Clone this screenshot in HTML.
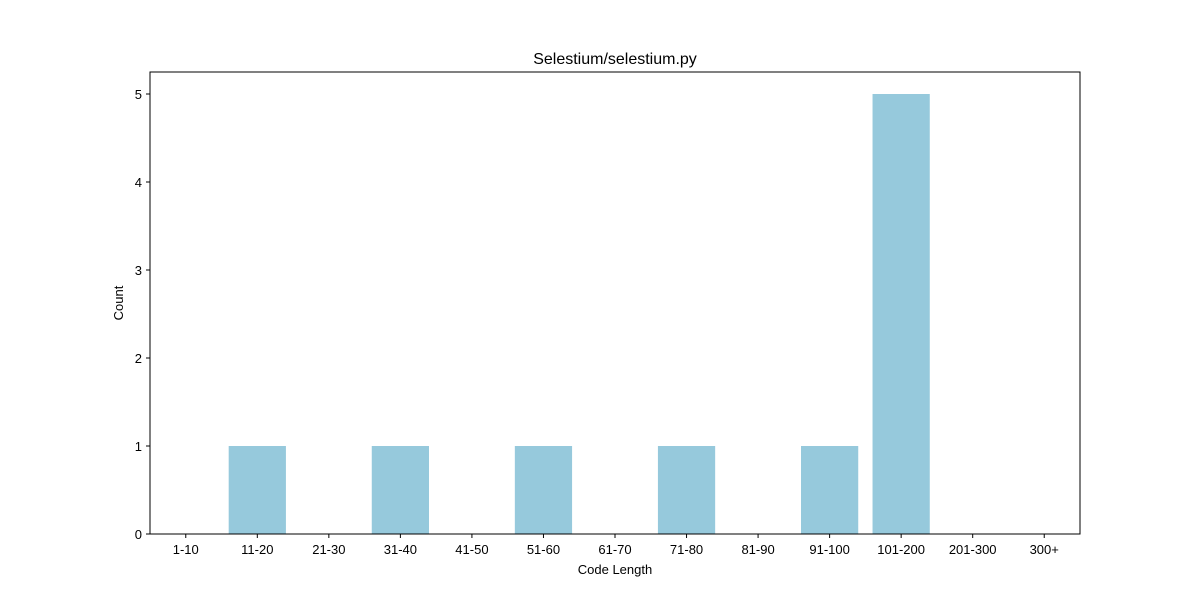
<!DOCTYPE html>
<html><head><meta charset="utf-8"><style>
body{margin:0;background:#fff;font-family:"Liberation Sans","DejaVu Sans",sans-serif;}
</style></head><body>
<svg width="1200" height="600" xmlns="http://www.w3.org/2000/svg">
<rect width="1200" height="600" fill="#fff"/>
<text x="615" y="64" font-size="16" text-anchor="middle">Selestium/selestium.py</text>
<g id="bars"></g>
<g id="xt"></g><g id="yt"></g>
<rect x="150" y="72" width="930" height="462" fill="none" stroke="#000" stroke-width="1"/>
<text x="615" y="574" font-size="13" text-anchor="middle">Code Length</text>
<text transform="translate(123,303) rotate(-90)" font-size="13" text-anchor="middle">Count</text>
</svg>
<script>
const categories=["1-10","11-20","21-30","31-40","41-50","51-60","61-70","71-80","81-90","91-100","101-200","201-300","300+"];
const counts=[0,1,0,1,0,1,0,1,0,1,5,0,0];
const yTicks=[0,1,2,3,4,5];
const NS="http://www.w3.org/2000/svg";
const x0=150,x1=1080,y0=534,y1=72,xmin=-0.5,xmax=12.5,ymax=5.25;
const xs=i=>x0+(i-xmin)/(xmax-xmin)*(x1-x0);
const ys=v=>y0-v/ymax*(y0-y1);
const unit=(x1-x0)/(xmax-xmin);
function mk(t,a,p){const e=document.createElementNS(NS,t);for(const k in a)e.setAttribute(k,a[k]);p.appendChild(e);return e;}
const bars=document.getElementById('bars'),xt=document.getElementById('xt'),yt=document.getElementById('yt');
categories.forEach((c,i)=>{
  const v=counts[i];
  const r=mk('rect',{x:xs(i)-0.4*unit,y:ys(v),width:0.8*unit,height:y0-ys(v),fill:'#96c9dc'},bars);
  
  
  mk('line',{x1:xs(i),x2:xs(i),y1:y0,y2:y0+4,stroke:'#000'},xt);
  const t=mk('text',{x:xs(i),y:y0+20,'font-size':13,'text-anchor':'middle'},xt);
  t.textContent=c;
  
  
});
yTicks.forEach(v=>{
  mk('line',{x1:x0-4,x2:x0,y1:ys(v),y2:ys(v),stroke:'#000'},yt);
  const t=mk('text',{x:x0-8,y:ys(v)+5,'font-size':13,'text-anchor':'end'},yt);
  t.textContent=v;
  
  
});
</script>
</body></html>
